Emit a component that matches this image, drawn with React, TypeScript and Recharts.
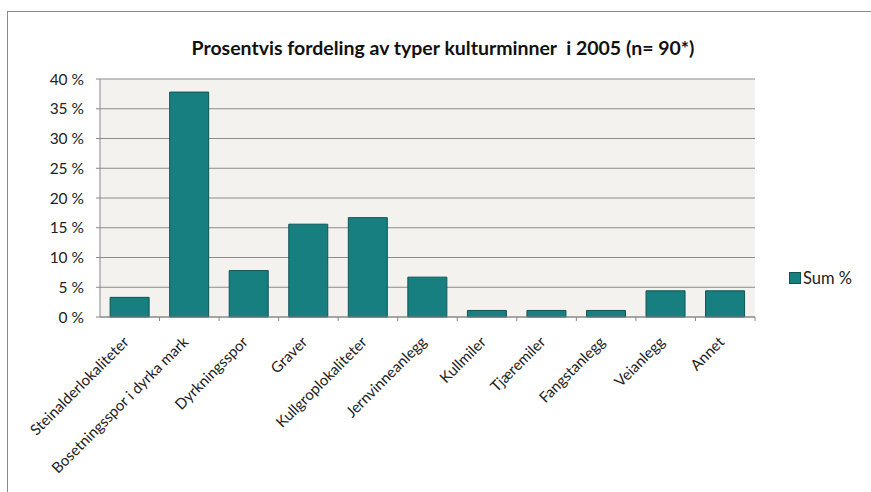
import { BarChart, Bar, XAxis, YAxis, CartesianGrid } from "recharts";

const categories = [
  "Steinalderlokaliteter",
  "Bosetningsspor i dyrka mark",
  "Dyrkningsspor",
  "Graver",
  "Kullgroplokaliteter",
  "Jernvinneanlegg",
  "Kullmiler",
  "Tjæremiler",
  "Fangstanlegg",
  "Veianlegg",
  "Annet",
];
const sumPercent = [3.3, 37.8, 7.8, 15.6, 16.7, 6.7, 1.1, 1.1, 1.1, 4.4, 4.4];
const yTicks = [0, 5, 10, 15, 20, 25, 30, 35, 40];

const data = categories.map((name, i) => ({ name, sum: sumPercent[i] }));

const FONT = "Lato, 'Open Sans', sans-serif";
const TEAL = "#187f80";
const HALF_STEP = 655 / categories.length / 2;

const CatTick = (props: any) => {
  const { x, y, payload } = props;
  return (
    <g>
      <line x1={x + HALF_STEP} y1={y} x2={x + HALF_STEP} y2={y + 4} stroke="#888" />
      <text
        x={x}
        y={y + 26}
        transform={`rotate(-45, ${x}, ${y + 26})`}
        textAnchor="end"
        fontSize={15}
        fontFamily={FONT}
        fill="#222"
      >
        {payload.value}
      </text>
    </g>
  );
};

const App = () => {
  return (
    <div style={{ position: "absolute", left: 0, top: 0, width: 871, height: 492, background: "#fff", overflow: "hidden" }}>
      <div
        style={{
          position: "absolute",
          top: 36,
          left: 0,
          width: 871,
          paddingLeft: 15,
          boxSizing: "border-box",
          textAlign: "center",
          fontFamily: FONT,
          fontWeight: 700,
          fontSize: 19.5,
          color: "#111",
        }}
      >
        Prosentvis fordeling av typer kulturminner&nbsp; i 2005 (n= 90*)
      </div>
      <div style={{ position: "absolute", top: 0, left: 0 }}>
        <BarChart
          width={871}
          height={492}
          data={data}
          margin={{ top: 79, right: 116, bottom: 0, left: 0 }}
          barCategoryGap="17%"
        >
          <CartesianGrid vertical={false} stroke="#8c8c8c" fill="#f4f2ef" />
          <XAxis
            dataKey="name"
            interval={0}
            height={175}
            tickLine={false}
            tickSize={0}
            tickMargin={0}
            axisLine={{ stroke: "#888" }}
            tick={<CatTick />}
          />
          <YAxis
            domain={[0, 40]}
            ticks={yTicks}
            width={100}
            tickSize={4}
            tickMargin={12}
            axisLine={{ stroke: "#888" }}
            tickLine={{ stroke: "#888" }}
            tickFormatter={(v: number) => `${v} %`}
            tick={{ fontSize: 15.5, fontFamily: FONT, fill: "#222" }}
          />
          <YAxis
            yAxisId="right"
            orientation="right"
            width={0}
            tick={false}
            tickLine={false}
            axisLine={{ stroke: "#888" }}
          />
          <Bar dataKey="sum" name="Sum %" fill={TEAL} stroke="#0e5455" isAnimationActive={false} />
        </BarChart>
      </div>
      <div
        style={{
          position: "absolute",
          left: 789,
          top: 268,
          display: "flex",
          alignItems: "center",
          fontFamily: FONT,
          fontSize: 16.5,
          color: "#222",
        }}
      >
        <span
          style={{
            display: "inline-block",
            width: 10,
            height: 10,
            background: TEAL,
            border: "1px solid #0e5455",
            marginRight: 2,
          }}
        />
        Sum %
      </div>
      <div
        style={{
          position: "absolute",
          left: 7,
          top: 11,
          width: 900,
          height: 500,
          borderTop: "1.5px solid #8a8a8a",
          borderLeft: "1.5px solid #8a8a8a",
          pointerEvents: "none",
        }}
      />
    </div>
  );
};

export default App;
